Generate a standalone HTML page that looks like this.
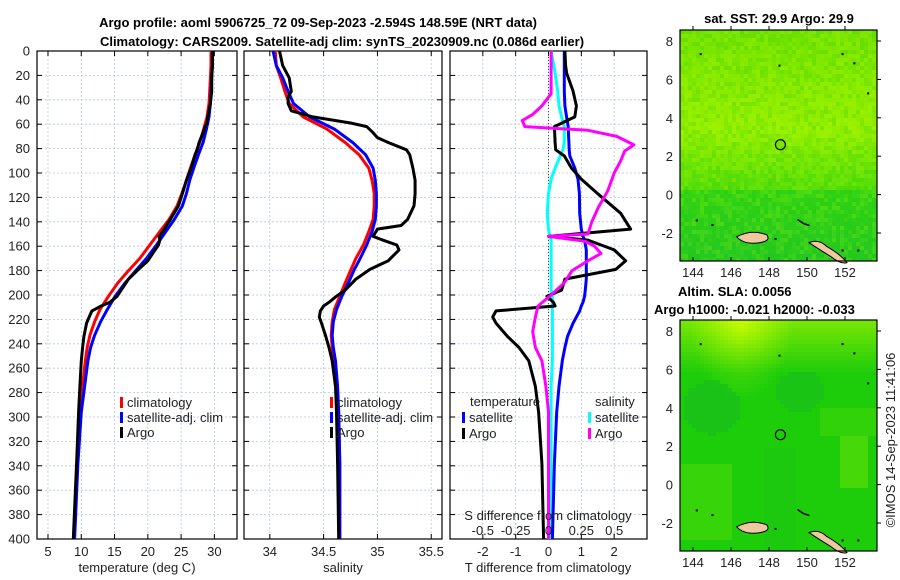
<!DOCTYPE html>
<html><head><meta charset="utf-8"><style>
body{margin:0;background:#fff;}
svg{display:block;font-family:"Liberation Sans","DejaVu Sans",sans-serif;}
</style></head><body>
<svg id="fig" width="900" height="580" viewBox="0 0 900 580" xmlns="http://www.w3.org/2000/svg">
<text x="318" y="27" font-size="13" font-weight="bold" text-anchor="middle">Argo profile: aoml 5906725_72 09-Sep-2023 -2.594S 148.59E (NRT data)</text>
<text x="342" y="46" font-size="13" font-weight="bold" text-anchor="middle">Climatology: CARS2009. Satellite-adj clim: synTS_20230909.nc (0.086d earlier)</text>
<g id="plots"></g>
<text x="779" y="23" font-size="13" font-weight="bold" text-anchor="middle">sat. SST: 29.9 Argo: 29.9</text>
<text x="678" y="296" font-size="13" font-weight="bold">Altim. SLA: 0.0056</text>
<text x="654" y="314" font-size="13" font-weight="bold">Argo h1000: -0.021 h2000: -0.033</text>
<text x="0" y="0" font-size="13" fill="#222" text-anchor="middle" transform="translate(895,440) rotate(-90)">©IMOS 14-Sep-2023 11:41:06</text>
</svg>
<script>
// ---- data ----
const depthClim = [0,12,22,33,43,54,64,75,85,96,106,117,127,138,148,159,170,180,190,201,212,222,233,243,254,275,296,338,400];
const tempClim  = [29.5,29.5,29.4,29.3,29.2,28.9,28.4,27.8,27.1,26.4,25.8,25.1,24.4,23.2,21.8,20.3,18.8,17.1,15.5,14.1,12.8,12.0,11.3,10.9,10.6,10.2,9.8,9.4,8.9];
const tempSat   = [29.7,29.7,29.6,29.5,29.4,29.2,28.8,28.3,27.6,26.9,26.3,25.8,25.2,24.0,22.7,21.3,19.8,18.2,16.6,15.1,13.9,12.9,12.0,11.4,11.0,10.5,10.0,9.5,9.0];
const salClim   = [34.05,34.06,34.10,34.14,34.18,34.31,34.53,34.70,34.83,34.92,34.95,34.97,34.97,34.96,34.92,34.87,34.80,34.75,34.70,34.65,34.60,34.58,34.57,34.58,34.60,34.62,34.64,34.65,34.65];
const salSat    = [34.03,34.06,34.12,34.17,34.22,34.37,34.60,34.77,34.89,34.96,34.98,34.99,34.99,34.98,34.95,34.90,34.84,34.78,34.73,34.67,34.62,34.59,34.58,34.59,34.61,34.63,34.64,34.65,34.65];
const depthArgo = [0,12,22,33,38,43,49,54,59,62,67,71,75,81,85,96,106,117,127,138,143,146,152,155,159,163,172,179,187,196,201,206,209,213,218,223,234,243,254,275,296,338,400];
const tempArgo  = [29.7,29.7,29.6,29.6,29.5,29.4,29.2,29.0,28.9,28.6,28.3,28.0,27.7,27.4,27.1,26.5,25.8,25.2,24.6,23.4,22.8,22.5,21.7,21.8,21.6,21.1,20.0,18.6,17.1,16.0,15.4,14.3,13.0,11.6,11.2,10.8,10.4,10.2,10.0,9.8,9.6,9.3,8.8];
const salArgo   = [34.09,34.12,34.18,34.20,34.17,34.17,34.20,34.40,34.75,34.90,34.96,35.00,35.10,35.27,35.30,35.33,35.35,35.35,35.34,35.28,35.22,35.00,34.96,35.05,35.18,35.20,35.10,34.93,34.80,34.70,34.62,34.55,34.50,34.47,34.46,34.48,34.52,34.55,34.58,34.61,34.62,34.63,34.64];
const depthDiff = [0,12,18,33,45,54,62,75,81,86,96,105,117,133,146,152,155,163,172,179,187,196,201,206,209,213,218,223,234,243,254,275,296,338,400];
const tDiffSat  = [0.48,0.48,0.48,0.48,0.50,0.55,0.60,0.62,0.63,0.65,0.80,0.90,0.94,0.95,1.00,1.05,1.10,1.15,1.15,1.15,1.15,1.12,1.10,1.05,1.00,0.95,0.85,0.75,0.58,0.50,0.42,0.32,0.25,0.18,0.12];
const tDiffArgo = [0.50,0.52,0.55,0.75,0.85,0.80,0.18,0.20,0.22,0.48,0.70,1.00,1.50,2.20,2.50,0.00,1.20,2.00,2.35,2.05,0.50,0.40,-0.05,0.15,0.20,-1.60,-1.70,-1.60,-1.25,-0.90,-0.60,-0.40,-0.30,-0.20,-0.15];
const sDiffSat  = [0.02,0.04,0.05,0.07,0.08,0.10,0.12,0.12,0.11,0.09,0.05,0.02,0.0,-0.01,0.0,0.01,0.02,0.02,0.02,0.02,0.02,0.02,0.03,0.03,0.03,0.03,0.03,0.03,0.03,0.03,0.03,0.02,0.02,0.02,0.02];
const depthSArgo = [0,12,22,35,45,52,57,62,65,70,77,82,90,100,115,128,140,150,152,156,160,166,172,180,190,200,209,218,230,243,254,275,296,338,400];
const sDiffArgo  = [0.02,0.02,0.02,0.02,-0.05,-0.12,-0.20,-0.18,0.30,0.52,0.65,0.58,0.55,0.50,0.45,0.38,0.33,0.30,0.00,0.28,0.35,0.40,0.30,0.18,0.12,0.02,-0.08,-0.10,-0.12,-0.10,-0.05,-0.02,0.00,0.00,0.00];
const depthTicks = [0,20,40,60,80,100,120,140,160,180,200,220,240,260,280,300,320,340,360,380,400];
const tempTicks = [5,10,15,20,25,30];
const salTicks = [34,34.5,35,35.5];
const salTickLabels = ['34','34.5','35','35.5'];
const tdTicks = [-2,-1,0,1,2];
const sdTicks = [-0.5,-0.25,0,0.25,0.5];
const sdTickLabels = ['-0.5','-0.25','0','0.25','0.5'];
const lonTicks = [144,146,148,150,152];
const latTicks = [8,6,4,2,0,-2];

const NS='http://www.w3.org/2000/svg';
const root=document.getElementById('plots');
function mk(tag,attrs,parent){const e=document.createElementNS(NS,tag);for(const k in attrs)e.setAttribute(k,attrs[k]);(parent||root).appendChild(e);return e;}
const TOP=51,BOT=539;
const yD=d=>TOP+d*(BOT-TOP)/400;
const panels=[
 {name:'temperature-panel',x0:37,x1:237,v0:3.35,v1:33.4},
 {name:'salinity-panel',x0:244,x1:442,v0:33.76,v1:35.6},
 {name:'difference-panel',x0:450,x1:647,v0:-3,v1:3}
];
function xf(p){return v=>p.x0+(v-p.v0)*(p.x1-p.x0)/(p.v1-p.v0);}
panels.forEach((p,i)=>{
  const g=mk('g',{});
  
  
  const X=xf(p);
  depthTicks.forEach(d=>{
    const l=mk('line',{x1:p.x0,x2:p.x1,y1:yD(d),y2:yD(d),stroke:'#b8c4e8','stroke-width':0.8,'stroke-dasharray':'2,2'},g);
    
    
    mk('line',{x1:p.x0,x2:p.x0+5,y1:yD(d),y2:yD(d),stroke:'#000'},g);
    mk('line',{x1:p.x1-5,x2:p.x1,y1:yD(d),y2:yD(d),stroke:'#000'},g);
  });
  const vt = i===0?tempTicks:(i===1?salTicks:tdTicks);
  vt.forEach((v,j)=>{
    const l=mk('line',{x1:X(v),x2:X(v),y1:TOP,y2:BOT,stroke:'#b8c4e8','stroke-width':0.8,'stroke-dasharray':'2,2'},g);
    
    
    mk('line',{x1:X(v),x2:X(v),y1:BOT-5,y2:BOT,stroke:'#000'},g);
    mk('line',{x1:X(v),x2:X(v),y1:TOP,y2:TOP+5,stroke:'#000'},g);
    const t=mk('text',{x:X(v),y:556,'font-size':13,'text-anchor':'middle',fill:'#222'},g);
    t.textContent = i===1?salTickLabels[j]:String(v);
    
    
  });
  const fr=mk('rect',{x:p.x0,y:TOP,width:p.x1-p.x0,height:BOT-TOP,fill:'none',stroke:'#000','stroke-width':1.2},g);
  
  
});
depthTicks.forEach(d=>{
  const t=mk('text',{x:30,y:yD(d)+4.5,'font-size':13,'text-anchor':'end',fill:'#222'});
  t.textContent=String(d);
  
  
});
[['temperature-axis-title',137,'temperature (deg C)'],['salinity-axis-title',343,'salinity'],['t-difference-axis-title',548,'T difference from climatology']].forEach(a=>{
  const t=mk('text',{x:a[1],y:572,'font-size':13,'text-anchor':'middle',fill:'#222'});
  t.textContent=a[2];
  
  
});
{
  const p=panels[2];const X=xf(p);
  const z=mk('line',{x1:X(0),x2:X(0),y1:TOP,y2:BOT,stroke:'#444','stroke-width':1,'stroke-dasharray':'1,2'});
  
  
}
function line(pi,depths,vals,color,name,scale){
  const X=xf(panels[pi]);const s=scale||1;
  const pts=depths.map((d,k)=>X(vals[k]*s).toFixed(1)+','+yD(d).toFixed(1)).join(' ');
  const e=mk('polyline',{points:pts,fill:'none',stroke:color,'stroke-width':3,'stroke-linejoin':'round'});
  
  
}
line(0,depthClim,tempClim,'#ff0000','temp-climatology-line');
line(0,depthClim,tempSat,'#0000ff','temp-satellite-line');
line(0,depthArgo,tempArgo,'#000000','temp-argo-line');
line(1,depthClim,salClim,'#ff0000','sal-climatology-line');
line(1,depthClim,salSat,'#0000ff','sal-satellite-line');
line(1,depthArgo,salArgo,'#000000','sal-argo-line');
line(2,depthDiff,sDiffSat,'#00ffff','sdiff-satellite-line',4);
line(2,depthDiff,tDiffSat,'#0000ff','tdiff-satellite-line');
line(2,depthDiff,tDiffArgo,'#000000','tdiff-argo-line');
line(2,depthSArgo,sDiffArgo,'#ff00ff','sdiff-argo-line',4);
{
  const p=panels[2];const X=xf(p);
  const t=mk('text',{x:548,y:520,'font-size':13,'text-anchor':'middle',fill:'#222'});
  t.textContent='S difference from climatology';
  
  
  sdTicks.forEach((s,j)=>{
    const tt=mk('text',{x:X(s*4),y:535,'font-size':13,'text-anchor':'middle',fill:'#222'});
    tt.textContent=sdTickLabels[j];
    
    
  });
}
function leg(x,y,color,label,name){
  const g=mk('g',{});
  
  
  mk('rect',{x:x,y:y-10,width:3,height:11,fill:color},g);
  const t=mk('text',{x:x+7,y:y,'font-size':13,fill:'#222'},g);
  t.textContent=label;
}
leg(120,407,'#ff0000','climatology','legend-entry-climatology');
leg(120,422,'#0000ff','satellite-adj. clim','legend-entry-satellite');
leg(120,437,'#000','Argo','legend-entry-argo');
leg(330,407,'#ff0000','climatology','legend-entry-climatology');
leg(330,422,'#0000ff','satellite-adj. clim','legend-entry-satellite');
leg(330,437,'#000','Argo','legend-entry-argo');
{const t=mk('text',{x:470,y:406,'font-size':13,fill:'#222'});t.textContent='temperature';}
{const t=mk('text',{x:595,y:406,'font-size':13,fill:'#222'});t.textContent='salinity';}
leg(462,422,'#0000ff','satellite','legend-entry-t-satellite');
leg(462,438,'#000','Argo','legend-entry-t-argo');
leg(588,422,'#00ffff','satellite','legend-entry-s-satellite');
leg(588,438,'#ff00ff','Argo','legend-entry-s-argo');

// ---- maps ----
const MX0=680,MX1=877;
const lonX=l=>693+(l-144)*19;
function hsh(i,j){let h=(i*374761393+j*668265263)>>>0;h=((h^(h>>13))*1274126177)>>>0;return (h%1000)/1000;}
function mix(a,b,t){return a.map((v,k)=>Math.round(v+(b[k]-v)*t));}
function drawMap(y0,name,colorFn,cs){
  const g=mk('g',{});
  
  
  const H=231;const latY=la=>y0+11+(8-la)*19.2;
  for(let cy=0;cy<H;cy+=cs){for(let cx=0;cx<MX1-MX0;cx+=cs){
    const i=Math.round(cx/cs),j=Math.round(cy/cs);
    mk('rect',{x:MX0+cx,y:y0+cy,width:Math.min(cs,MX1-MX0-cx)+0.3,height:Math.min(cs,H-cy)+0.3,fill:colorFn(cx/(MX1-MX0),cy/H,i,j)},g);
  }}
  [[0.1,0.1],[0.5,0.15],[0.82,0.1],[0.88,0.14],[0.95,0.27],[0.08,0.82],[0.16,0.84],[0.48,0.9],[0.9,0.95],[0.82,0.95]].forEach(s=>{
    mk('rect',{x:MX0+s[0]*197,y:y0+s[1]*H,width:2,height:2,fill:'#000'},g);
  });
  mk('path',{d:`M${lonX(146.3)},${latY(-2.2)} q15,-8 30,-2 q5,6 -8,8 q-15,2 -22,-6z`,fill:'#f0c8a0',stroke:'#000','stroke-width':1},g);
  mk('path',{d:`M${lonX(150.1)},${latY(-2.5)} q10,-4 18,4 q14,8 20,16 q-6,2 -16,-6 q-10,-6 -22,-14z`,fill:'#f0c8a0',stroke:'#000','stroke-width':1},g);
  mk('path',{d:`M${lonX(149.5)},${latY(-1.3)} l6,4 l6,2`,fill:'none',stroke:'#000','stroke-width':1.5},g);
  const c=mk('circle',{cx:lonX(148.6),cy:latY(2.6),r:5,fill:'none',stroke:'#000','stroke-width':1.2},g);
  
  
  mk('rect',{x:MX0,y:y0,width:MX1-MX0,height:H,fill:'none',stroke:'#000','stroke-width':1.2},g);
  lonTicks.forEach(l=>{
    mk('line',{x1:lonX(l),x2:lonX(l),y1:y0+H-4,y2:y0+H,stroke:'#000'},g);
    mk('line',{x1:lonX(l),x2:lonX(l),y1:y0-4,y2:y0,stroke:'#000'},g);
    const t=mk('text',{x:lonX(l),y:y0+H+16,'font-size':13,'text-anchor':'middle',fill:'#222'},g);
    t.textContent=String(l);
    
    
  });
  latTicks.forEach(la=>{
    mk('line',{x1:MX1,x2:MX1+4,y1:latY(la),y2:latY(la),stroke:'#000'},g);
    const t=mk('text',{x:673,y:latY(la)+5,'font-size':13,'text-anchor':'end',fill:'#222'},g);
    t.textContent=String(la);
    
    
  });
}
drawMap(30,'sst-map',(u,v,i,j)=>{
  let base;
  if(v<0.42){base=mix([115,228,0],[150,240,0],v/0.42);}
  else if(v<0.68){base=mix([150,240,0],[85,222,10],(v-0.42)/0.26);}
  else {base=mix([50,212,20],[35,200,35],(v-0.68)/0.32);}
  const n=hsh(i,j)-0.5;
  return 'rgb('+mix(base,[n>0?190:30,n>0?250:195,0],Math.abs(n)*0.45).join(',')+')';
},4);
drawMap(320,'sla-map',(u,v,i,j)=>{
  let t=0;
  if(v<0.22){t=0.55*(1-v/0.22);}
  const d1=Math.hypot((u-0.3)*1.2,v-0.02);
  t+=Math.max(0,0.5-d1*1.6);
  const dk=Math.hypot(u-0.15,(v-0.37)*1.3);if(dk<0.15)t-=0.15;
  const dk2=Math.hypot(u-0.6,(v-0.3)*1.3);if(dk2<0.12)t-=0.12;
  if(u>0.8&&u<0.95&&v>0.5&&v<0.72)t+=0.25;
  if(u>0.7&&v>0.38&&v<0.5)t+=0.12;
  if(u<0.25&&v>0.62&&v<0.95)t+=0.15;
  if(u>0.42&&u<0.58&&v>0.55)t-=0.05;
  t=Math.min(1,t);
  const base = t>=0?mix([30,205,10],[190,250,0],t):mix([30,205,10],[20,180,40],-t*3);
  return 'rgb('+base.join(',')+')';
},4);
</script>
</body></html>
